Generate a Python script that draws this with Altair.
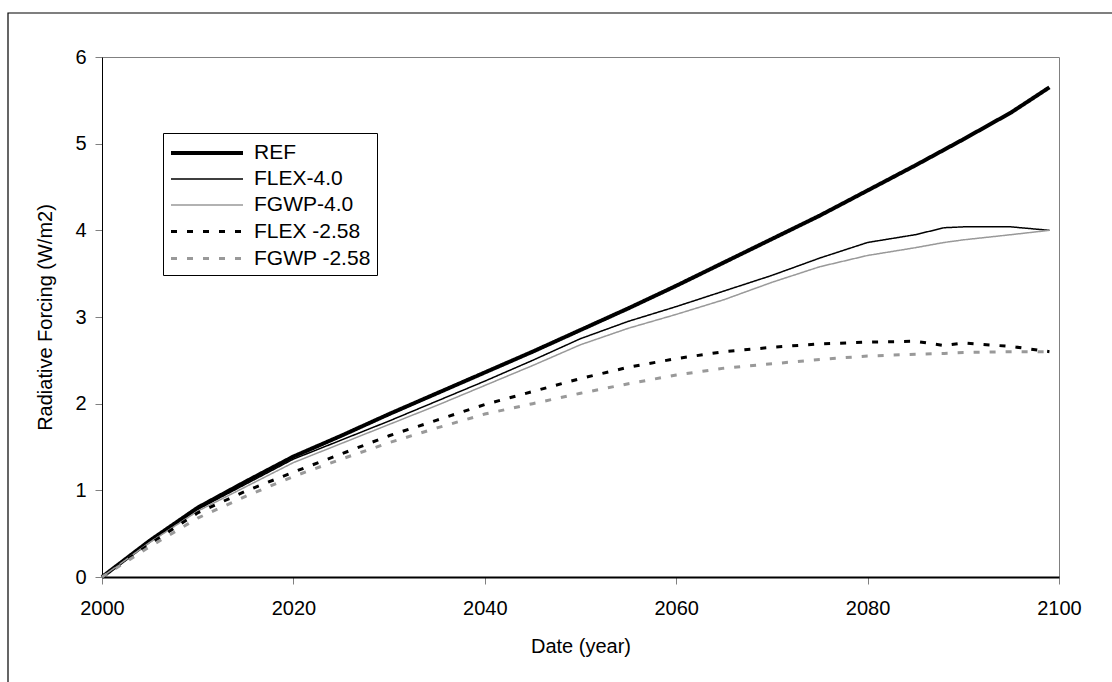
import altair as alt
import pandas as pd

# Radiative forcing pathways, 2000-2099 (W/m2)
years = [2000, 2005, 2010, 2015, 2020, 2025, 2030, 2035, 2040, 2045, 2050,
         2055, 2060, 2065, 2070, 2075, 2080, 2085, 2088, 2090, 2095, 2099]

ref = [0.00, 0.42, 0.80, 1.10, 1.39, 1.63, 1.88, 2.12, 2.36, 2.60, 2.85,
       3.10, 3.36, 3.63, 3.90, 4.17, 4.46, 4.75, 4.93, 5.05, 5.36, 5.65]
flex_40 = [0.00, 0.41, 0.78, 1.07, 1.36, 1.58, 1.80, 2.03, 2.26, 2.50, 2.75,
           2.95, 3.12, 3.30, 3.48, 3.68, 3.86, 3.95, 4.03, 4.04, 4.04, 4.00]
fgwp_40 = [0.00, 0.40, 0.76, 1.04, 1.32, 1.54, 1.76, 1.98, 2.21, 2.44, 2.68,
           2.87, 3.03, 3.20, 3.40, 3.58, 3.71, 3.80, 3.86, 3.89, 3.95, 4.00]
flex_258 = [0.00, 0.38, 0.74, 0.99, 1.21, 1.42, 1.63, 1.81, 1.99, 2.14, 2.29,
            2.42, 2.52, 2.60, 2.65, 2.69, 2.71, 2.72, 2.67, 2.70, 2.66, 2.60]
fgwp_258 = [0.00, 0.35, 0.68, 0.93, 1.16, 1.36, 1.55, 1.72, 1.88, 2.00, 2.12,
            2.23, 2.33, 2.41, 2.46, 2.51, 2.55, 2.57, 2.58, 2.59, 2.60, 2.60]

series_names = ["REF", "FLEX-4.0", "FGWP-4.0", "FLEX -2.58", "FGWP -2.58"]
series_values = [ref, flex_40, fgwp_40, flex_258, fgwp_258]

colors = ["#000000", "#000000", "#999999", "#000000", "#999999"]
widths = [4, 1.5, 1.5, 3, 3]
dashes = [[1, 0], [1, 0], [1, 0], [6, 10], [6, 10]]

rows = []
for name, vals in zip(series_names, series_values):
    for yr, v in zip(years, vals):
        rows.append({"year": yr, "value": v, "series": name})
df = pd.DataFrame(rows)

FONT = "Liberation Sans"
W, H = 957, 520

lines = alt.Chart(df).mark_line(clip=False).encode(
    x=alt.X("year:Q", scale=alt.Scale(domain=[2000, 2100], nice=False),
            axis=alt.Axis(values=[2000, 2020, 2040, 2060, 2080, 2100],
                          format="d", title="Date (year)", labelFlush=False)),
    y=alt.Y("value:Q", scale=alt.Scale(domain=[0, 6], nice=False),
            axis=alt.Axis(values=[0, 1, 2, 3, 4, 5, 6], labelFlush=False,
                          title="Radiative Forcing (W/m2)")),
    color=alt.Color("series:N", sort=series_names,
                    scale=alt.Scale(domain=series_names, range=colors),
                    legend=alt.Legend(
                        title=None, orient="none", legendX=61, legendY=76,
                        symbolType="M-1,0H5", symbolSize=576,
                        labelOffset=57, labelFont=FONT, labelFontSize=21,
                        labelColor="#000000", rowPadding=3, padding=6,
                        strokeColor="#000000", fillColor="#ffffff",
                        symbolFillColor="transparent")),
    strokeWidth=alt.StrokeWidth("series:N", sort=series_names,
                                scale=alt.Scale(type="ordinal",
                                                domain=series_names,
                                                range=widths)),
    strokeDash=alt.StrokeDash("series:N", sort=series_names,
                              scale=alt.Scale(domain=series_names, range=dashes)),
    order=alt.Order("year:Q"),
)

# Outer chart-area border
frame = alt.Chart(pd.DataFrame({"k": [0]})).mark_rect(
    fill=None, stroke="#000000", strokeWidth=1.2
).encode(
    x=alt.value(-94), x2=alt.value(W + 80),
    y=alt.value(-44), y2=alt.value(H + 150),
)

chart = alt.layer(frame, lines).properties(
    width=W, height=H,
    autosize=alt.AutoSizeParams(type="none"),
    padding={"left": 102, "top": 57, "right": 53, "bottom": 105},
    background="#ffffff",
).configure_view(
    stroke="#808080", strokeWidth=1
).configure_axis(
    grid=False, labelFont=FONT, titleFont=FONT, labelFontSize=20,
    titleFontSize=20, labelColor="#000000", titleColor="#000000",
    titleFontWeight="normal", tickColor="#808080", tickSize=7,
    domainColor="#000000",
).configure_axisX(
    domainWidth=2, labelPadding=14, titlePadding=18,
).configure_axisY(
    domainWidth=1, labelPadding=9, titlePadding=19,
)

chart.save("out.html", embed_options={"renderer": "svg", "actions": False})
